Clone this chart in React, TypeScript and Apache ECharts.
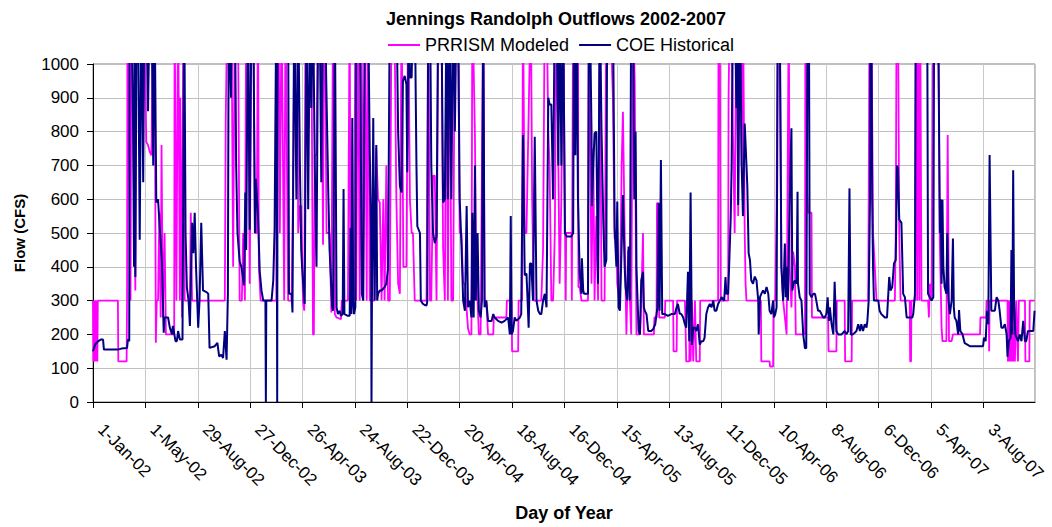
import React, { useEffect, useRef } from 'react';
import * as echarts from 'echarts';

const chartTitle = 'Jennings Randolph Outflows 2002-2007';
const seriesNames = ['PRRISM Modeled', 'COE Historical'];
const xAxisTitle = 'Day of Year';
const yAxisTitle = 'Flow (CFS)';
const xTickLabels = [
  '1-Jan-02', '1-May-02', '29-Aug-02', '27-Dec-02', '26-Apr-03', '24-Aug-03',
  '22-Dec-03', '20-Apr-04', '18-Aug-04', '16-Dec-04', '15-Apr-05', '13-Aug-05',
  '11-Dec-05', '10-Apr-06', '8-Aug-06', '6-Dec-06', '5-Apr-07', '3-Aug-07',
];
const tickStepDays = 120;
const lastDay = 2158;

// [day index from 1-Jan-02, flow in CFS]
const prrismModeled: [number, number][] = [
  [0,300],[1,120],[2,300],[4,120],[5,300],[7,120],[8,300],[10,120],[11,300],[57,300],[58,120],[77,120],[78,300],[79,1200],[86,300],[88,1200],[94,600],[97,330],[99,1200],[118,1200],[122,770],[126,760],[130,740],[134,730],[138,1200],[141,1200],[144,175],[146,300],[149,300],[152,560],[155,250],[157,760],[160,250],[164,500],[167,200],[186,200],[187,1200],[191,300],[195,1200],[199,300],[200,900],[204,250],[207,1200],[210,300],[222,300],[224,560],[227,300],[302,300],[304,830],[308,1200],[317,1200],[321,400],[325,1200],[332,1200],[336,300],[341,300],[344,500],[348,300],[351,1200],[355,1200],[359,350],[363,1200],[367,1200],[371,500],[375,500],[378,1200],[380,400],[384,300],[420,300],[421,1200],[425,1200],[428,500],[432,1200],[438,300],[441,1200],[447,300],[455,300],[458,600],[462,1200],[468,1200],[470,500],[474,580],[477,580],[481,300],[484,270],[487,1200],[500,1200],[504,200],[506,200],[508,730],[512,730],[516,1200],[523,1200],[527,465],[529,1200],[531,1200],[535,500],[542,500],[546,265],[550,1200],[554,260],[558,250],[568,245],[570,300],[584,300],[588,1200],[590,300],[598,300],[601,1200],[603,300],[607,1200],[611,300],[615,1200],[619,300],[623,1200],[627,300],[630,1200],[634,300],[645,300],[649,750],[653,600],[657,590],[661,300],[665,600],[668,300],[672,700],[676,300],[680,300],[684,1200],[690,1200],[695,600],[699,350],[703,320],[707,1200],[711,400],[718,400],[722,1200],[726,600],[730,500],[733,500],[737,300],[764,300],[768,1200],[772,300],[775,300],[779,670],[783,670],[787,300],[791,1200],[798,1200],[802,460],[806,300],[810,1200],[813,300],[817,1200],[821,300],[825,300],[829,1200],[836,1200],[840,500],[844,500],[848,350],[852,350],[859,218],[863,200],[867,200],[869,1200],[875,785],[877,500],[881,300],[884,200],[888,200],[894,1200],[897,300],[901,300],[905,200],[917,200],[918,250],[947,250],[948,300],[959,300],[960,150],[974,150],[975,300],[983,300],[985,1200],[989,500],[993,500],[1003,1200],[1006,600],[1010,300],[1027,300],[1031,450],[1035,1200],[1039,1200],[1043,800],[1046,700],[1050,300],[1054,300],[1058,500],[1062,1200],[1066,700],[1069,350],[1073,600],[1077,1200],[1081,600],[1083,300],[1084,500],[1096,500],[1097,300],[1100,1200],[1111,1200],[1112,340],[1115,340],[1119,300],[1134,300],[1136,1200],[1142,350],[1146,750],[1149,300],[1153,550],[1157,300],[1161,1200],[1165,300],[1172,300],[1176,1200],[1184,1200],[1191,900],[1195,484],[1199,484],[1201,350],[1207,280],[1211,700],[1214,859],[1218,500],[1222,200],[1226,450],[1230,300],[1233,200],[1237,1200],[1241,948],[1245,200],[1253,200],[1256,300],[1260,500],[1262,200],[1285,200],[1286,250],[1291,250],[1292,588],[1296,588],[1297,250],[1310,250],[1311,300],[1329,300],[1330,150],[1337,150],[1338,300],[1356,300],[1357,250],[1359,120],[1366,120],[1367,300],[1369,120],[1372,300],[1375,120],[1379,300],[1382,120],[1390,120],[1391,300],[1432,300],[1433,1200],[1436,1200],[1437,650],[1438,300],[1455,300],[1456,900],[1459,1200],[1463,1200],[1466,800],[1470,500],[1474,1200],[1478,550],[1482,1200],[1486,700],[1489,1200],[1493,500],[1495,350],[1497,300],[1530,300],[1531,120],[1550,120],[1551,105],[1558,105],[1559,300],[1563,300],[1566,580],[1569,1200],[1573,1200],[1577,400],[1581,300],[1585,250],[1589,200],[1594,1200],[1596,400],[1600,280],[1604,445],[1608,400],[1610,200],[1631,200],[1632,1200],[1634,700],[1638,560],[1646,560],[1647,250],[1684,250],[1685,150],[1703,150],[1704,300],[1722,300],[1723,120],[1738,120],[1739,300],[1776,300],[1779,1200],[1783,1200],[1787,500],[1791,400],[1795,300],[1837,300],[1839,500],[1841,1200],[1844,1200],[1847,500],[1850,300],[1871,300],[1872,120],[1874,120],[1875,300],[1883,300],[1885,1200],[1888,300],[1890,1200],[1893,300],[1895,1200],[1898,300],[1913,300],[1915,250],[1917,350],[1921,300],[1925,1200],[1936,1200],[1940,470],[1944,220],[1946,180],[1955,180],[1958,790],[1961,180],[1967,180],[1970,200],[2032,200],[2033,250],[2046,250],[2047,300],[2052,300],[2053,150],[2054,300],[2095,300],[2096,120],[2098,300],[2100,120],[2102,300],[2104,120],[2106,300],[2108,120],[2110,300],[2112,120],[2115,300],[2119,120],[2121,300],[2135,300],[2136,120],[2145,120],[2146,300],[2157,300],
];

const coeHistorical: [number, number][] = [
  [0,150],[5,170],[12,180],[19,185],[23,185],[25,155],[57,155],[65,158],[78,160],[80,185],[83,180],[84,1200],[88,1200],[92,800],[94,400],[96,1200],[97,370],[100,1200],[103,1200],[107,480],[111,1200],[115,650],[118,1200],[122,1200],[126,860],[130,1200],[134,1200],[138,700],[141,1200],[145,590],[149,600],[153,515],[158,415],[162,205],[164,250],[172,250],[176,220],[181,200],[183,225],[189,180],[192,180],[195,210],[199,185],[205,185],[209,1200],[212,500],[215,340],[219,300],[222,225],[227,530],[230,440],[233,560],[236,400],[241,220],[244,300],[248,530],[252,330],[260,325],[264,320],[267,160],[279,165],[285,175],[289,135],[294,140],[298,130],[302,210],[306,125],[309,320],[311,1200],[316,900],[319,1200],[325,1200],[328,700],[331,500],[336,415],[340,400],[346,345],[349,620],[351,450],[355,1200],[359,510],[363,1200],[367,1200],[371,500],[373,660],[378,550],[382,385],[386,330],[390,300],[395,300],[396,0],[397,300],[409,300],[413,360],[416,510],[420,1200],[421,1200],[422,0],[423,1200],[447,1200],[449,320],[455,320],[457,265],[461,1200],[466,600],[470,1200],[474,700],[477,450],[479,400],[484,300],[485,290],[489,1200],[493,570],[497,1200],[500,870],[504,1200],[508,700],[512,400],[516,1200],[519,1200],[523,650],[527,1200],[531,1200],[535,900],[539,620],[542,450],[546,340],[548,280],[550,270],[554,1200],[558,280],[561,260],[565,270],[568,255],[572,260],[574,630],[576,260],[584,255],[588,255],[590,515],[592,260],[594,840],[596,300],[598,260],[601,280],[603,1200],[611,1200],[616,320],[619,300],[623,1200],[630,1200],[634,740],[637,500],[638,0],[639,300],[642,840],[645,300],[649,760],[651,300],[653,320],[657,330],[661,330],[668,340],[672,350],[676,395],[680,1200],[695,1200],[699,800],[703,640],[707,620],[710,950],[714,965],[718,940],[720,680],[722,940],[723,1200],[726,960],[730,960],[733,1200],[737,1200],[741,700],[743,520],[749,500],[751,300],[756,290],[760,287],[764,285],[766,300],[768,1200],[772,1200],[775,700],[779,500],[783,470],[787,490],[791,1200],[798,1200],[802,590],[806,600],[810,1200],[813,600],[817,1200],[821,600],[825,1200],[829,800],[833,1200],[836,1200],[840,600],[844,470],[848,300],[852,270],[856,580],[859,280],[863,300],[867,250],[869,560],[872,250],[875,700],[877,300],[881,500],[884,270],[888,250],[891,300],[894,1200],[895,1200],[897,280],[901,300],[905,240],[913,240],[917,260],[920,250],[928,240],[936,235],[943,240],[951,250],[955,200],[957,550],[959,200],[962,210],[966,250],[970,240],[978,250],[981,260],[985,790],[989,375],[993,380],[995,320],[998,220],[1001,410],[1004,410],[1008,300],[1012,785],[1016,300],[1020,270],[1024,260],[1027,260],[1031,300],[1035,320],[1039,280],[1043,900],[1046,880],[1050,880],[1054,600],[1058,1200],[1062,1200],[1066,700],[1069,1200],[1073,700],[1077,1200],[1081,500],[1085,490],[1096,490],[1100,500],[1102,1200],[1105,730],[1108,1200],[1111,600],[1115,380],[1119,320],[1120,425],[1123,330],[1125,320],[1134,320],[1136,1200],[1138,1200],[1142,800],[1143,580],[1146,700],[1149,795],[1153,800],[1157,350],[1161,1200],[1165,800],[1169,534],[1172,400],[1176,420],[1178,1200],[1191,1200],[1195,514],[1199,400],[1201,593],[1204,280],[1207,270],[1211,460],[1214,612],[1218,400],[1220,340],[1224,300],[1227,460],[1230,300],[1233,1200],[1237,1200],[1240,600],[1243,800],[1245,400],[1247,320],[1250,210],[1253,200],[1256,360],[1260,385],[1262,280],[1264,270],[1268,260],[1272,210],[1279,210],[1283,215],[1288,230],[1293,280],[1296,588],[1298,270],[1301,716],[1304,260],[1310,260],[1317,255],[1325,260],[1333,260],[1337,280],[1340,290],[1344,262],[1348,260],[1352,250],[1356,230],[1359,220],[1363,385],[1366,180],[1369,620],[1372,169],[1375,220],[1379,220],[1382,210],[1386,230],[1390,170],[1394,180],[1398,180],[1401,190],[1405,260],[1409,280],[1413,290],[1417,280],[1421,300],[1424,270],[1428,270],[1432,290],[1436,300],[1440,310],[1446,300],[1449,370],[1451,320],[1455,320],[1457,390],[1461,550],[1463,700],[1466,1200],[1470,1200],[1474,870],[1476,1200],[1478,583],[1482,1200],[1486,700],[1489,550],[1493,824],[1497,700],[1499,637],[1502,440],[1505,420],[1508,360],[1512,350],[1516,371],[1520,360],[1524,300],[1525,200],[1528,310],[1531,320],[1535,330],[1539,320],[1543,340],[1547,320],[1550,270],[1554,260],[1558,300],[1560,250],[1563,260],[1566,280],[1569,1200],[1573,1200],[1577,400],[1581,300],[1585,469],[1587,310],[1590,400],[1592,300],[1596,600],[1600,810],[1602,330],[1605,350],[1608,360],[1612,350],[1614,622],[1615,350],[1619,310],[1623,300],[1627,200],[1631,159],[1634,160],[1637,1200],[1640,1200],[1642,320],[1646,310],[1650,320],[1654,320],[1657,300],[1661,270],[1665,270],[1669,260],[1673,250],[1676,250],[1680,260],[1683,310],[1686,240],[1688,280],[1692,230],[1696,200],[1699,356],[1703,210],[1707,200],[1715,200],[1722,210],[1726,200],[1730,210],[1733,632],[1736,200],[1741,200],[1745,205],[1749,210],[1753,230],[1757,210],[1760,230],[1764,210],[1768,230],[1772,220],[1774,240],[1777,300],[1780,600],[1781,1200],[1783,1200],[1785,600],[1787,400],[1789,300],[1799,300],[1802,270],[1806,260],[1810,255],[1814,250],[1819,250],[1824,370],[1827,330],[1831,340],[1835,410],[1839,420],[1842,700],[1844,690],[1847,540],[1852,530],[1856,320],[1860,310],[1864,250],[1877,250],[1879,260],[1883,320],[1885,1200],[1911,1200],[1913,320],[1917,310],[1921,300],[1925,310],[1927,1200],[1936,1200],[1940,500],[1942,600],[1944,350],[1946,598],[1948,400],[1951,340],[1955,320],[1957,500],[1960,300],[1963,260],[1967,300],[1970,484],[1972,280],[1974,250],[1978,240],[1982,200],[1984,272],[1987,210],[1992,200],[1997,174],[2003,170],[2009,165],[2039,165],[2041,190],[2045,180],[2048,270],[2051,230],[2054,731],[2058,270],[2066,270],[2070,310],[2074,300],[2077,270],[2081,220],[2085,220],[2089,230],[2093,200],[2095,134],[2098,180],[2102,190],[2104,450],[2106,200],[2108,686],[2110,300],[2113,200],[2116,190],[2119,180],[2123,200],[2127,180],[2131,240],[2135,180],[2138,180],[2142,210],[2154,210],[2157,270],
];

const FONT = '"Liberation Sans", Arial, Helvetica, sans-serif';

export default function App() {
  const ref = useRef<HTMLDivElement>(null);

  useEffect(() => {
    if (!ref.current) return;
    const chart = echarts.init(ref.current, null, { renderer: 'svg' });
    chart.setOption({
      animation: false,
      backgroundColor: '#ffffff',
      textStyle: { fontFamily: FONT, color: '#000' },
      title: {
        text: chartTitle,
        left: 386,
        top: 10,
        padding: 0,
        textStyle: { fontFamily: FONT, fontSize: 18, fontWeight: 'bold', color: '#000' },
      },
      legend: {
        data: seriesNames,
        left: 388,
        top: 36,
        padding: 0,
        icon: 'rect',
        itemWidth: 32,
        itemHeight: 2,
        itemGap: 10,
        textStyle: { fontFamily: FONT, fontSize: 18, color: '#000', lineHeight: 18 },
      },
      grid: {
        left: 93,
        top: 64,
        width: 942,
        height: 338,
        show: true,
        borderColor: '#808080',
        borderWidth: 1,
        backgroundColor: 'transparent',
      },
      xAxis: {
        type: 'value',
        min: 0,
        max: lastDay,
        interval: tickStepDays,
        name: xAxisTitle,
        nameLocation: 'middle',
        nameGap: 102,
        nameTextStyle: { fontFamily: FONT, fontSize: 18, fontWeight: 'bold', color: '#000' },
        axisLine: { show: true, onZero: false, lineStyle: { color: '#000', width: 1 } },
        axisTick: { show: true, length: 6, lineStyle: { color: '#000' } },
        axisLabel: {
          rotate: -45,
          fontSize: 17,
          fontFamily: FONT,
          color: '#000',
          margin: 17,
          padding: [0, 0, 0, 11],
          showMaxLabel: false,
          formatter: (v: number) => xTickLabels[Math.round(v / tickStepDays)] ?? '',
        },
        splitLine: { show: true, lineStyle: { color: '#c8c8c8', width: 1 } },
      },
      yAxis: {
        type: 'value',
        min: 0,
        max: 1000,
        interval: 100,
        name: yAxisTitle,
        nameLocation: 'middle',
        nameGap: 66,
        nameTextStyle: { fontFamily: FONT, fontSize: 15, fontWeight: 'bold', color: '#000' },
        axisLine: { show: true, lineStyle: { color: '#000', width: 1 } },
        axisTick: { show: true, length: 6, lineStyle: { color: '#000' } },
        axisLabel: {
          fontSize: 17,
          fontFamily: FONT,
          color: '#000',
          margin: 14,
          formatter: (v: number) => String(v),
        },
        splitLine: { show: true, lineStyle: { color: '#c0c0c0', width: 1 } },
      },
      series: [
        {
          name: seriesNames[0],
          type: 'line',
          data: prrismModeled,
          symbol: 'none',
          clip: true,
          lineStyle: { color: '#ff00ff', width: 1.8 },
          itemStyle: { color: '#ff00ff' },
        },
        {
          name: seriesNames[1],
          type: 'line',
          data: coeHistorical,
          symbol: 'none',
          clip: true,
          lineStyle: { color: '#000080', width: 2 },
          itemStyle: { color: '#000080' },
        },
      ],
    });
    return () => chart.dispose();
  }, []);

  return (
    <div
      ref={ref}
      style={{ position: 'fixed', left: 0, top: 0, width: 1052, height: 527, background: '#ffffff' }}
    />
  );
}
